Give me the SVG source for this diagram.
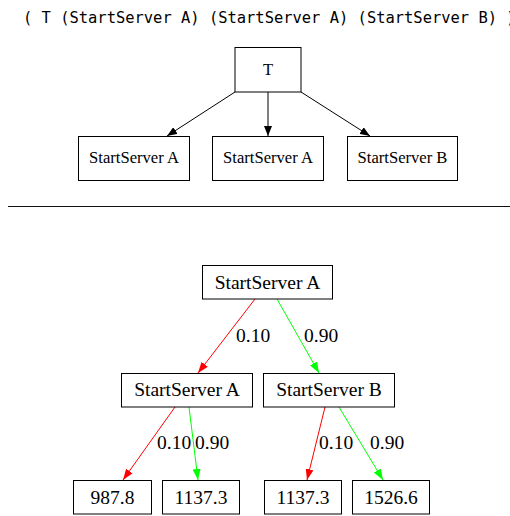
<svg xmlns="http://www.w3.org/2000/svg" width="510" height="516" viewBox="0 0 510 516">
<defs>
<style>
.box{fill:#fff;stroke:#000;stroke-width:1}
.t1{font-family:"Liberation Serif","Times New Roman",serif;font-size:16.6px;text-anchor:middle;fill:#000}
.t2{font-family:"Liberation Serif","Times New Roman",serif;font-size:19.5px;text-anchor:middle;fill:#000}
.lbl{font-family:"Liberation Serif","Times New Roman",serif;font-size:19.5px;fill:#000}
.mono{font-family:"DejaVu Sans Mono","Liberation Mono",monospace;font-size:15.45px;fill:#000}
.e{fill:none;stroke-width:1}
.k{stroke:#000}
.r{stroke:#ff0000}
.g{stroke:#00ff00}
</style>
<marker id="ak" viewBox="0 0 10 8" refX="10" refY="4" markerWidth="10" markerHeight="8" markerUnits="userSpaceOnUse" orient="auto"><path d="M0,0 L10,4 L0,8 z" fill="#000"/></marker>
<marker id="ar" viewBox="0 0 11 8" refX="11" refY="4" markerWidth="11" markerHeight="8" markerUnits="userSpaceOnUse" orient="auto"><path d="M0,0 L11,4 L0,8 z" fill="#ff0000"/></marker>
<marker id="ag" viewBox="0 0 11 8" refX="11" refY="4" markerWidth="11" markerHeight="8" markerUnits="userSpaceOnUse" orient="auto"><path d="M0,0 L11,4 L0,8 z" fill="#00ff00"/></marker>
</defs>
<rect width="510" height="516" fill="#fff"/>
<text class="mono" x="23" y="23">( T (StartServer A) (StartServer A) (StartServer B) )</text>

<g id="connectors-top">
<line class="e k" x1="235" y1="92" x2="167" y2="136" marker-end="url(#ak)"/>
<line class="e k" x1="268" y1="92" x2="268" y2="136" marker-end="url(#ak)"/>
<line class="e k" x1="301" y1="92" x2="370" y2="136" marker-end="url(#ak)"/>
</g>
<g id="top-T"><rect class="box" x="235" y="47.5" width="66" height="44.5"/><text class="t1" x="268" y="75">T</text></g>
<g id="top-A1"><rect class="box" x="78.5" y="136.5" width="111" height="44"/><text class="t1" x="134" y="163">StartServer A</text></g>
<g id="top-A2"><rect class="box" x="212.5" y="136.5" width="111" height="44"/><text class="t1" x="268" y="163">StartServer A</text></g>
<g id="top-B"><rect class="box" x="347.5" y="136.5" width="110" height="44"/><text class="t1" x="402.5" y="163">StartServer B</text></g>

<line x1="8" y1="206.5" x2="510" y2="206.5" stroke="#111" stroke-width="1.2"/>

<g id="connectors-bottom">
<line class="e r" x1="255" y1="299" x2="198" y2="373" marker-end="url(#ar)"/>
<line class="e g" x1="277" y1="299" x2="319" y2="373" marker-end="url(#ag)"/>
<line class="e r" x1="175" y1="407" x2="123" y2="480" marker-end="url(#ar)"/>
<line class="e g" x1="189" y1="407" x2="198" y2="480" marker-end="url(#ag)"/>
<line class="e r" x1="325" y1="407" x2="307" y2="480" marker-end="url(#ar)"/>
<line class="e g" x1="339" y1="407" x2="383" y2="480" marker-end="url(#ag)"/>
<text class="lbl" x="236" y="342">0.10</text>
<text class="lbl" x="304" y="342">0.90</text>
<text class="lbl" x="157" y="449">0.10</text>
<text class="lbl" x="195" y="449">0.90</text>
<text class="lbl" x="319" y="449">0.10</text>
<text class="lbl" x="370" y="449">0.90</text>
</g>
<g id="root"><rect class="box" x="202.5" y="265.5" width="130" height="33.5"/><text class="t2" x="267.5" y="289">StartServer A</text></g>
<g id="l2-A"><rect class="box" x="121.5" y="373.5" width="131" height="33.5"/><text class="t2" x="187" y="396">StartServer A</text></g>
<g id="l2-B"><rect class="box" x="263.5" y="373.5" width="131" height="33.5"/><text class="t2" x="329" y="396">StartServer B</text></g>
<g id="leaf1"><rect class="box" x="73.5" y="480.5" width="78" height="33.5"/><text class="t2" x="112.5" y="504">987.8</text></g>
<g id="leaf2"><rect class="box" x="162.5" y="480.5" width="77" height="33.5"/><text class="t2" x="201" y="504">1137.3</text></g>
<g id="leaf3"><rect class="box" x="264.5" y="480.5" width="77" height="33.5"/><text class="t2" x="303" y="504">1137.3</text></g>
<g id="leaf4"><rect class="box" x="352.5" y="480.5" width="77" height="33.5"/><text class="t2" x="391" y="504">1526.6</text></g>
</svg>
